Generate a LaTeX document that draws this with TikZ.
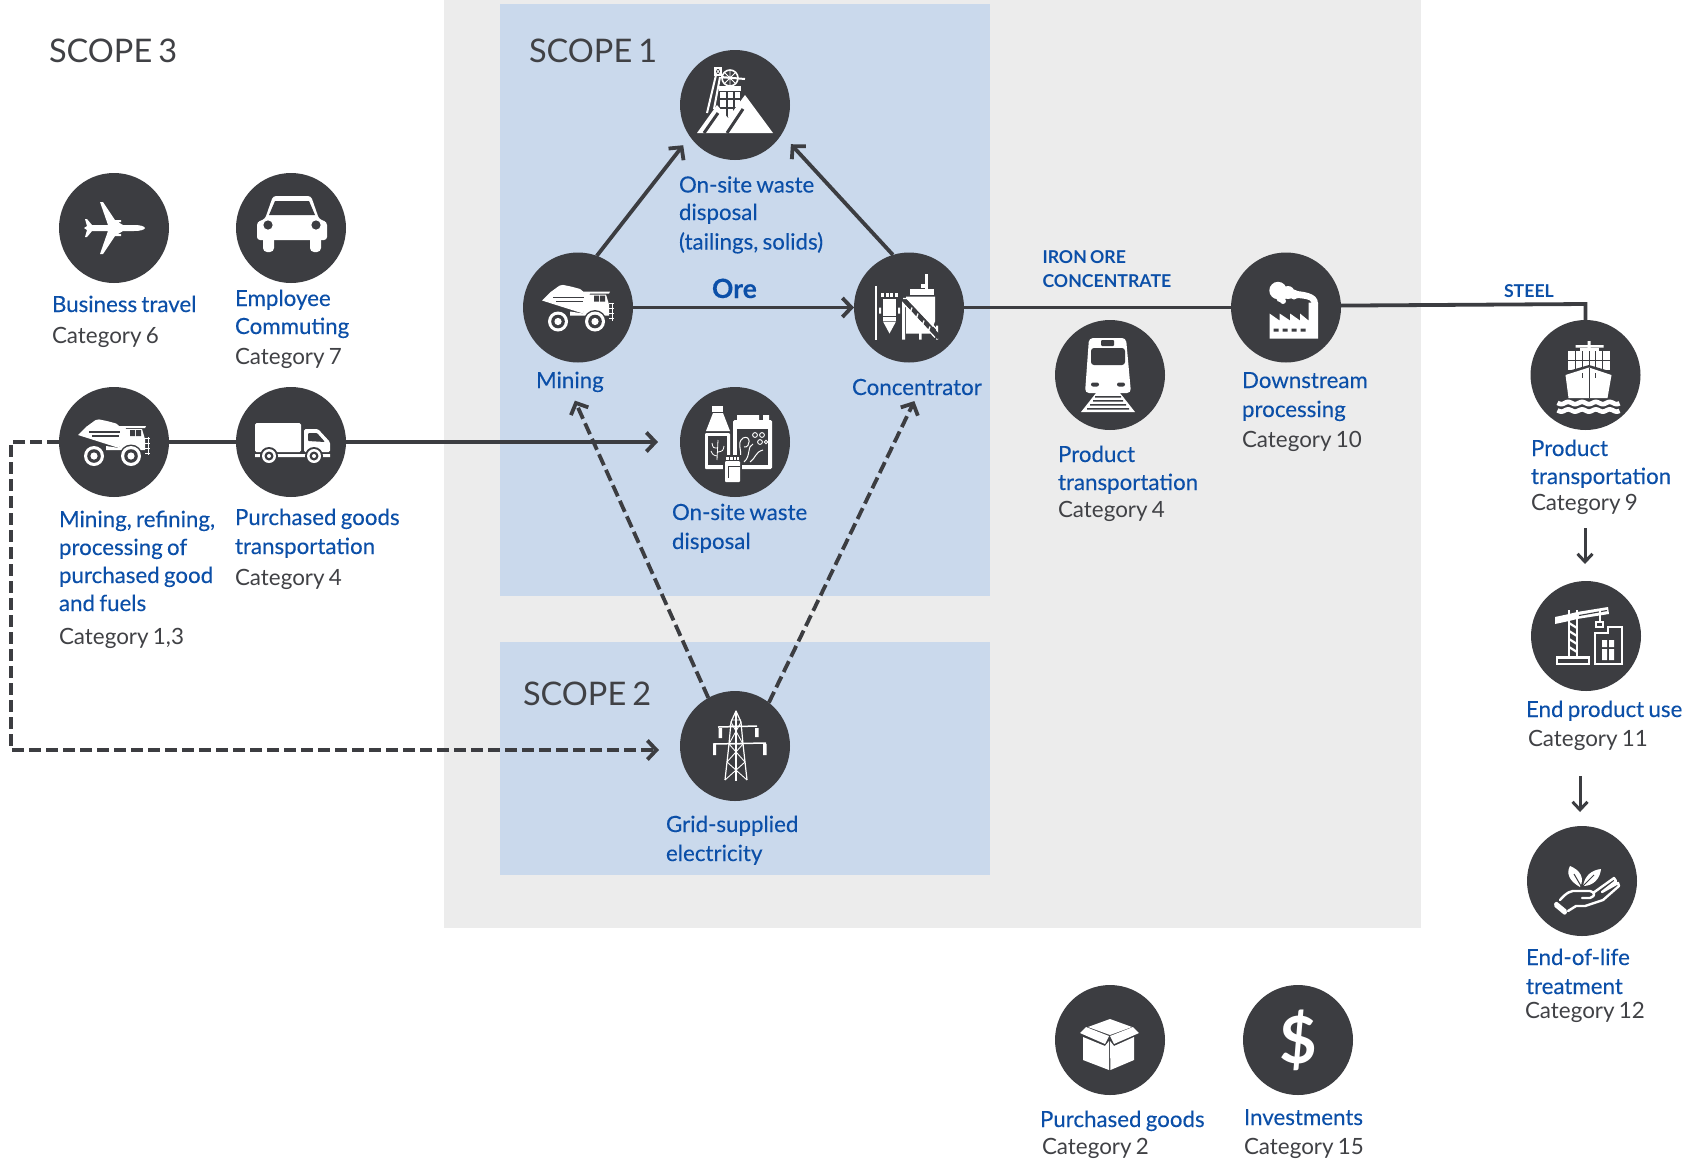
\documentclass[tikz,border=0pt]{standalone}
\usepackage{fontspec}
\setmainfont{Lato}[WordSpace=0.75]
\newfontfamily\lblfont{Lato}[WordSpace=0.75,FakeBold=0.2]
\usetikzlibrary{arrows.meta}
\definecolor{dk}{HTML}{3C3D41}
\definecolor{txg}{HTML}{404145}
\definecolor{bl}{HTML}{0B4FA8}
\definecolor{bgg}{HTML}{ECECEC}
\definecolor{bgb}{HTML}{CAD9EC}
\tikzset{
 circ/.style={circle,fill=dk,draw=none,minimum size=110pt,inner sep=0pt,outer sep=0pt},
 lb/.style={anchor=base west,xshift=-1pt,inner sep=0pt,outer sep=0pt,text=bl,font=\lblfont\fontsize{22.3}{26}\selectfont},
 lg/.style={anchor=base west,xshift=-1pt,inner sep=0pt,outer sep=0pt,text=txg,font=\fontsize{22.4}{26}\selectfont},
 sc/.style={anchor=base west,inner sep=0pt,outer sep=0pt,text=txg,font=\fontsize{32.5}{34}\selectfont},
 sm/.style={anchor=base west,inner sep=0pt,outer sep=0pt,text=bl,font=\fontsize{17.7}{20}\bfseries\selectfont},
 conn/.style={draw=dk,line width=3.8pt},
 arr/.style={conn,-{Straight Barb[length=9pt,width=19pt]}},
 dsh/.style={conn,dash pattern=on 12pt off 5pt},
 w/.style={fill=white,draw=none},
 d/.style={fill=dk,draw=none},
 wl/.style={draw=white,line width=1.2pt},
 dl/.style={draw=dk,line width=1.4pt},
 pics/haul/.style={code={
  \fill[w,rounded corners=2pt] (-28,-15) -- (-17,-23) -- (-7,-21) -- (4,-18) -- (6,-14) -- cycle;
  \fill[w] (-36,-7) -- (-27,-16) -- (32,-16) -- (31,-14) -- (12,-14) -- (5,6) -- cycle;
  \draw[dl] (-25,-10) -- (6,-10) (-22,-6) -- (5,-6);
  \fill[w] (9,-13) -- (28,-13) -- (31,-3) -- (31,8) -- (-8,8) -- (-8,4) -- (5,6) -- cycle;
  \fill[d] (16,-12) rectangle (21,-6) (22,-12) rectangle (27,-6);
  \draw[white,line width=.8pt] (34,-5) -- (34,13) (31,-4) -- (36,-4) (31,1) -- (36,1) (31,6) -- (36,6) (31,11) -- (36,11);
  \foreach \cx in {-20,17}{
   \fill[d] (\cx,14) circle (11.5);
   \fill[w] (\cx,14) circle (10);
   \fill[d] (\cx,14) circle (6.8);
   \fill[w] (\cx,14) circle (3.6);
  }
 }},
 pics/plane/.style={code={
  \fill[w] (31,0) .. controls (30,-2) and (26,-3) .. (20,-3) -- (9,-3) -- (4,-6) -- (7,-6) -- (7,-8) -- (1,-8) -- (-11,-26) -- (-14,-26) -- (-6,-3)
   -- (-22,-3) -- (-27,-9) -- (-29,-9) -- (-27,-2) -- (-30,0) -- (-27,2) -- (-29,9) -- (-27,9) -- (-22,3) -- (-6,3) -- (-14,26) -- (-11,26) -- (1,8) -- (7,8) -- (7,6) -- (4,6) -- (9,3) -- (20,3) .. controls (26,3) and (30,2) .. (31,0) -- cycle;
 }},
 pics/car/.style={code={
  \fill[w,rounded corners=3pt] (-34,12) -- (-34,-6) -- (-26,-9) -- (-18,-32) -- (20,-32) -- (28,-9) -- (36,-6) -- (36,12) -- cycle;
  \fill[d] (-22,-13) -- (-16,-27) -- (18,-27) -- (24,-13) -- cycle;
  \fill[d] (-23,-3) circle (4.6) (25,-3) circle (4.6);
  \fill[w,rounded corners=4pt] (-28,8) rectangle (-17,24) (19,8) rectangle (30,24);
 }},
 pics/lorry/.style={code={
  \fill[w,rounded corners=1.5pt] (-36,-19) rectangle (10,10);
  \fill[w,rounded corners=1.5pt] (13,-13) -- (27,-13) -- (39,0) -- (39,10) -- (13,10) -- cycle;
  \fill[d,rounded corners=1pt] (17,-9) -- (26,-9) -- (34,0) -- (17,-1) -- cycle;
  \fill[w] (-36,12) rectangle (-31,15) (-14,12) rectangle (15,15) (31,12) rectangle (39,15);
  \foreach \cx in {-22,23}{
   \fill[d] (\cx,14) circle (9);
   \fill[w] (\cx,14) circle (7);
   \fill[d] (\cx,14) circle (4.5);
   \fill[w] (\cx,14) circle (2);
  }
 }},
 pics/minehead/.style={code={
  \fill[w] (-16,-19) rectangle (6,-14);
  \fill[w] (-15,-13) rectangle (5,12);
  \draw[dl] (-8,-13) -- (-8,12) (-1,-13) -- (-1,12) (-15,-6) -- (5,-6) (-15,3) -- (5,3);
  \fill[w] (-38,28) -- (-18,0) -- (-7,13) -- (10,-10) -- (38,28) -- cycle;
  \draw[dk,line width=3pt] (-31,28) -- (-17,8) (-8,28) -- (8,4);
  \draw[white,line width=1.6pt] (-5,-27) circle (8);
  \draw[white,line width=.8pt] (-13,-27) -- (3,-27) (-5,-35) -- (-5,-19) (-10.6,-32.6) -- (.6,-21.4) (-10.6,-21.4) -- (.6,-32.6);
  \draw[white,line width=1.6pt] (-20,-37) rectangle (-14,-30);
  \draw[white,line width=.8pt] (-20,-37) -- (-14,-30) (-20,-30) -- (-14,-37);
  \draw[white,line width=2pt] (-19,-30) -- (-28,8) (-15,-28) -- (-21,4);
  \draw[white,line width=2pt] (-14,-28) -- (10,-26);
 }},
 pics/bottles/.style={code={
  \fill[w] (-23,-36) rectangle (-12,-30);
  \fill[w] (-22,-29) -- (-12,-29) -- (-5,-11) -- (-29,-11) -- cycle;
  \fill[w,rounded corners=1pt] (-30,-9) rectangle (-5,27);
  \fill[d] (-27,-6) rectangle (-8,23);
  \draw[wl,line width=.8pt] (-18,18) -- (-17,-2) (-17,6) .. controls (-22,6) .. (-23,1) (-17,10) .. controls (-12,9) .. (-11,4) (-18,14) .. controls (-22,13) .. (-24,9);
  \fill[w,rounded corners=1.5pt] (-2,-22) rectangle (37,27);
  \fill[w] (2,-27) -- (24,-27) -- (24,-22) -- (2,-22) -- cycle (28,-27) rectangle (34,-22);
  \fill[d] (2,-13) rectangle (33,23);
  \draw[white,line width=1pt] (3,20) .. controls (10,10) and (0,2) .. (8,-4) .. controls (16,-8) and (16,6) .. (9,5) (9,20) .. controls (16,14) and (12,4) .. (18,2) (15,20) .. controls (21,16) and (20,10) .. (28,8);
  \draw[white,line width=.9pt] (20,-7) circle (2.4) (27,-7) circle (2.4) (25,0) circle (2.4) (31,0) circle (1.8);
  \fill[d] (-12,13) rectangle (7,42);
  \fill[w,rounded corners=1pt] (-10,19) rectangle (5,40);
  \fill[w] (-9,15) rectangle (4,18);
  \draw[dl,line width=.8pt] (-6,15) -- (-6,18) (-2,15) -- (-2,18) (1,15) -- (1,18) (-7,24) -- (-7,36) (-7,24) -- (5,24);
 }},
 pics/conc/.style={code={
  \fill[w] (-34.5,-22) rectangle (-32,32);
  \foreach \ax in {-28,-23.5,-19,-14.5}{\fill[w] (\ax,-15) rectangle (\ax+3,-11);}
  \fill[w] (-26,-9) rectangle (-13,8);
  \fill[w] (-30,0) rectangle (-28,6) (-11,0) rectangle (-9,6);
  \fill[w] (-26,9) rectangle (-13,13);
  \fill[w] (-26,14) -- (-13,14) -- (-19.5,26) -- cycle;
  \fill[w] (16,-34) rectangle (19,-18);
  \fill[w] (12,-24) rectangle (16,-20);
  \fill[w] (1,-19) rectangle (25,-13);
  \fill[w] (-3,-11) -- (26,-11) -- (26,14) -- (21,26) -- (-3,26) -- cycle;
  \fill[w] (-7,-7) rectangle (-4,32) (10,5) rectangle (12.5,32) (27,18) rectangle (29,32);
  \draw[dk,line width=5pt] (-6,-9) -- (30,30);
  \draw[white,line width=1.3pt] (-6,-9) -- (-2,-9) -- (28,22) (-6,-4) -- (26,30) (3,0) -- (1,6) (9,6) -- (7,12) (15,13) -- (13,19) (21,19) -- (19,25);
 }},
 pics/pylon/.style={code={
  \draw[white,line width=1.2pt,line join=round] (-10,34) -- (-6,-2) -- (-4,-24) -- (1,-35) -- (6,-24) -- (8,-2) -- (12,34);
  \draw[white,line width=1.2pt] (1,-35) -- (1,35);
  \draw[white,line width=.9pt] (-4,-24) -- (8,-2) (6,-24) -- (-6,-2) (-6,-20) -- (7,-20) (-7,-2) -- (9,-2) (-6,-2) -- (10,16) (8,-2) -- (-8,16) (-8,16) -- (12,34) (10,16) -- (-10,34) (-4,-26) -- (6,-26);
  \draw[white,line width=1.5pt] (-17,-19) -- (22,-20) (-22,-2) -- (31,-3);
  \fill[w] (-16.5,-18) rectangle (-13,-8) (20,-18) rectangle (23.5,-9) (-22,-2) rectangle (-19,9) (28,-2) rectangle (31.5,9);
 }},
 pics/trainic/.style={code={
  \fill[w,rounded corners=4pt] (-21,-37) -- (16,-37) -- (21,18) -- (-25,18) -- cycle;
  \fill[d,rounded corners=3pt] (-19,-27) rectangle (15,-10);
  \fill[d,rounded corners=1pt] (-9,-35) rectangle (4,-29);
  \fill[d,rounded corners=2pt] (-19,7.5) rectangle (-11,11.5) (7,7.5) rectangle (15,11.5);
  \fill[w] (-14,18) -- (10,18) -- (25,37) -- (-29,37) -- cycle;
  \fill[d] (-15,21) rectangle (11,22.5) (-17,25) rectangle (13,26.5) (-20,29) rectangle (16,30.5) (-23,33) rectangle (19,34.5);
 }},
 pics/factory/.style={code={
  \fill[w] (-16.5,31) -- (-16.5,6) -- (-6.5,13) -- (-6.5,6) -- (4,13) -- (4,6) -- (14,13) -- (14,6) -- (22.5,13) -- (22.5,-5) -- (32,-5) -- (32,31) -- cycle;
  \fill[d] (-12.5,21) rectangle (-7.5,24) (-3.5,21) rectangle (1.5,24) (5.5,21) rectangle (10.5,24) (14.5,21) rectangle (19.5,24);
  \fill[w] (-8,-17) circle (8.7) (2,-15) circle (6.5) (8,-13) circle (5) (-5,-10) circle (5) (-3,-6.5) circle (3);
  \fill[w] (5,-17) .. controls (17,-16) and (32,-15) .. (32,-4) -- (26,-4) .. controls (25,-9) and (17,-9) .. (5,-10) -- cycle;
 }},
 pics/shipic/.style={code={
  \fill[w] (-10,-30) rectangle (18,-27.5) (2,-34) rectangle (5,-27);
  \fill[w] (-6,-27) rectangle (13,-24);
  \fill[w] (-18,-24) rectangle (24,-5);
  \draw[dl,line width=.8pt] (-10,-24) -- (-10,-5) (-3,-24) -- (-3,-5) (3.5,-24) -- (3.5,-5) (10,-24) -- (10,-5) (17,-24) -- (17,-5) (-18,-15) -- (24,-15);
  \fill[d] (-21,-3) -- (3.5,-10) -- (27,-3) -- (24,2) -- (-17,2) -- cycle;
  \fill[w] (-20,0) -- (3.5,-7.5) -- (26,0) -- (22,23) -- (-17,23) -- cycle;
  \draw[dl,line width=.9pt] (3.5,-7.5) -- (3.5,23) (-3,-2) -- (-3,3) (10,-2) -- (10,3);
  \draw[white,line width=4.6pt] plot[domain=-28:34,samples=60] (\x,{28+1.1*sin(\x*26)});
  \draw[white,line width=4.6pt] plot[domain=-28:34,samples=60] (\x,{35.5+1.1*sin(\x*26)});
 }},
 pics/craneic/.style={code={
  \draw[white,line width=2.2pt] (-29,21.5) rectangle (3,28);
  \draw[white,line width=2.6pt] (-17,-26) -- (-17,21) (-9,-26) -- (-9,21);
  \draw[white,line width=2.2pt] (-17,-13) -- (-9,-8) (-17,-5) -- (-9,0) (-17,3) -- (-9,8) (-17,11) -- (-9,16);
  \fill[w] (-31,-19) -- (-31,-12) -- (-17,-15) -- (-9,-17) -- (23,-22) -- (22,-29) -- (-9,-24) -- (-17,-22) -- cycle;
  \draw[dl,line width=1.1pt] (-7,-20.5) -- (21,-25.5);
  \draw[white,line width=1.6pt] (14,-25) -- (14,-15);
  \draw[white,line width=2pt] (10,-14) rectangle (17,-9);
  \draw[white,line width=2.2pt] (9,28) -- (9,-3) -- (22,-3) -- (22,-9) -- (36,-9) -- (36,28) -- cycle;
  \fill[w] (16,4) rectangle (21,11) (23,4) rectangle (28,11) (16,13) rectangle (21,24) (23,13) rectangle (28,24);
 }},
 pics/handic/.style={code={
  \fill[w] (-2,6) .. controls (-13,0) and (-16,-8) .. (-12,-15) .. controls (-2,-11) and (3,-3) .. (-2,6) -- cycle;
  \fill[w] (1,5) .. controls (3,-6) and (10,-11) .. (19,-12) .. controls (18,-2) and (11,5) .. (1,5) -- cycle;
  \draw[dk,line width=1pt] (-1,5) -- (-8,-7) (1,5) -- (12,-6);
  \fill[w,rounded corners=2pt] (-29,24.5) -- (-26,20) -- (-14,30) -- (-17,34.5) -- cycle;
  \draw[white,line width=2.4pt,line join=round,line cap=round] (-22,19) .. controls (-16,12) and (-11,9) .. (-5,10) -- (8,10) .. controls (13,11) and (14,15) .. (8,17) -- (0,17) (11,12) -- (32,-3) -- (34,0) -- (20,11) -- (36,2) -- (37,5) -- (21,19) -- (3,25) -- (-6,25) -- (-14,30);
 }},
 pics/boxic/.style={code={
  \fill[w] (0,-21) -- (22,-13) -- (0,-5) -- (-22,-13) -- cycle;
  \fill[w] (-30,-7) -- (-24,-13) -- (-1,-4) -- (-5,4) -- cycle;
  \fill[w] (29,-7) -- (23,-13) -- (0,-4) -- (4,4) -- cycle;
  \fill[w] (-27,-3) -- (-5,6) -- (-1,1) -- (-1,30) -- (-27,20) -- cycle;
  \fill[w] (24,-3) -- (4,6) -- (0,1) -- (0.4,30) -- (24,20) -- cycle;
 }},
}
\begin{document}
\begin{tikzpicture}[x=1pt,y=-1pt]
\useasboundingbox (0,0) rectangle (1700,1160);
\fill[white] (0,0) rectangle (1700,1160);
\fill[bgg] (444,0) rectangle (1421,928);
\fill[bgb] (500,4) rectangle (990,596);
\fill[bgb] (500,642) rectangle (990,875);
% nodes
\node[circ] (travel) at (114,228) {};
\node[circ] (commute) at (291,228) {};
\node[circ] (pghaul) at (114,442) {};
\node[circ] (pgtrans) at (291,442) {};
\node[circ] (wasteT) at (735,105) {};
\node[circ] (mining) at (578,307.5) {};
\node[circ] (conc) at (909,307.5) {};
\node[circ] (wasteS) at (735,442) {};
\node[circ] (grid) at (735,746) {};
\node[circ] (train) at (1110,375) {};
\node[circ] (down) at (1286,307.5) {};
\node[circ] (ship) at (1585.5,375) {};
\node[circ] (crane) at (1586,636) {};
\node[circ] (eol) at (1582,881) {};
\node[circ] (goods) at (1110,1040) {};
\node[circ] (invest) at (1298,1040) {};
\coordinate (corner) at (11,442);
\coordinate (cornerB) at (11,750);
\coordinate (steelC) at (1585.5,304);
\coordinate (a1s) at (1585,528);
\coordinate (a1e) at (1585,564);
\coordinate (a2s) at (1580,776);
\coordinate (a2e) at (1580,812);
% connectors
\draw[conn] (pghaul.east) -- (pgtrans.west);
\draw[arr,shorten >=22pt] (pgtrans.east) -- (wasteS.west);
\draw[arr,shorten >=11pt] (mining.70) -- (wasteT.215);
\draw[arr,shorten >=13.7pt] (conc.107) -- (wasteT.328);
\draw[arr] (mining.east) -- (conc.west);
\draw[conn] (conc.east) -- (down.west);
\draw[conn,line join=miter] (down.2) -- (steelC) -- (ship.north);
\draw[dsh,-{Straight Barb[length=9pt,width=19pt]},shorten >=21pt] (pghaul.west) -- (corner) -- (cornerB) -- (grid.west |- cornerB) ;
\draw[dsh,-{Straight Barb[length=9pt,width=19pt]},shorten >=47pt] (grid.119) -- (mining.246.5);
\draw[dsh,-{Straight Barb[length=9pt,width=19pt]},shorten >=51pt] (grid.52) -- (conc.300);
\draw[conn,line width=3pt,-{Straight Barb[length=8pt,width=15pt]}] (a1s) -- (a1e);
\draw[conn,line width=3pt,-{Straight Barb[length=8pt,width=15pt]}] (a2s) -- (a2e);
% icons
\pic at (travel) {plane};
\pic at (commute) {car};
\pic at (pghaul) {haul};
\pic at (pgtrans) {lorry};
\pic at (mining) {haul};
\pic at (wasteT) {minehead};
\pic at (wasteS) {bottles};
\pic at (conc) {conc};
\pic at (grid) {pylon};
\pic at (train) {trainic};
\pic at (down) {factory};
\pic at (ship) {shipic};
\pic at (crane) {craneic};
\pic at (eol) {handic};
\pic at (goods) {boxic};
\node[inner sep=0pt,text=white,font=\fontsize{65}{65}\bfseries\selectfont] (dollar) at (1298,1040) {\$};
% labels
\node[sc] (s3) at (49,62) {SCOPE 3};
\node[sc] (s1) at (529,62) {SCOPE 1};
\node[sc] (s2) at (523,705) {SCOPE 2};
\node[lb] (t1) at (53,312) {Business travel};
\node[lg] (t2) at (53,343) {Category 6};
\node[lb] (t3) at (236,306) {Employee};
\node[lb] (t4) at (236,334) {Commuting};
\node[lg] (t5) at (236,364) {Category 7};
\node[lb] (t6) at (60,527) {Mining, refining,};
\node[lb] (t7) at (60,555) {processing of};
\node[lb] (t8) at (60,583) {purchased good};
\node[lb] (t9) at (60,611) {and fuels};
\node[lg] (t10) at (60,644) {Category 1,3};
\node[lb] (t11) at (236,525) {Purchased goods};
\node[lb] (t12) at (236,554) {transportation};
\node[lg] (t13) at (236,585) {Category 4};
\node[lb] (t14) at (680,192.5) {On-site waste};
\node[lb] (t15) at (680,220) {disposal};
\node[lb] (t16) at (680,249.5) {(tailings, solids)};
\node[lb,font=\lblfont\fontsize{26.5}{28}\bfseries\selectfont] (t17) at (713,298) {Ore};
\node[lb] (t18) at (537,388) {Mining};
\node[lb] (t19) at (853,395) {Concentrator};
\node[lb] (t20) at (673,520) {On-site waste};
\node[lb] (t21) at (673,549) {disposal};
\node[lb] (t22) at (667,832) {Grid-supplied};
\node[lb] (t23) at (667,861) {electricity};
\node[sm] (t24) at (1042.5,263) {IRON ORE};
\node[sm] (t25) at (1042.5,287) {CONCENTRATE};
\node[sm] (t26) at (1504,297) {STEEL};
\node[lb] (t27) at (1059,462) {Product};
\node[lb] (t28) at (1059,490) {transportation};
\node[lg] (t29) at (1059,517.5) {Category 4};
\node[lb] (t30) at (1243,388) {Downstream};
\node[lb] (t31) at (1243,417) {processing};
\node[lg] (t32) at (1243,447) {Category 10};
\node[lb] (t33) at (1532,456) {Product};
\node[lb] (t34) at (1532,484) {transportation};
\node[lg] (t35) at (1532,510) {Category 9};
\node[lb] (t36) at (1527,717) {End product use};
\node[lg] (t37) at (1529,746) {Category 11};
\node[lb] (t38) at (1527,965) {End-of-life};
\node[lb] (t39) at (1527,994) {treatment};
\node[lg] (t40) at (1526,1018) {Category 12};
\node[lb] (t41) at (1041,1127) {Purchased goods};
\node[lg] (t42) at (1043,1154) {Category 2};
\node[lb] (t43) at (1245,1125) {Investments};
\node[lg] (t44) at (1245,1154) {Category 15};
\end{tikzpicture}
\end{document}
